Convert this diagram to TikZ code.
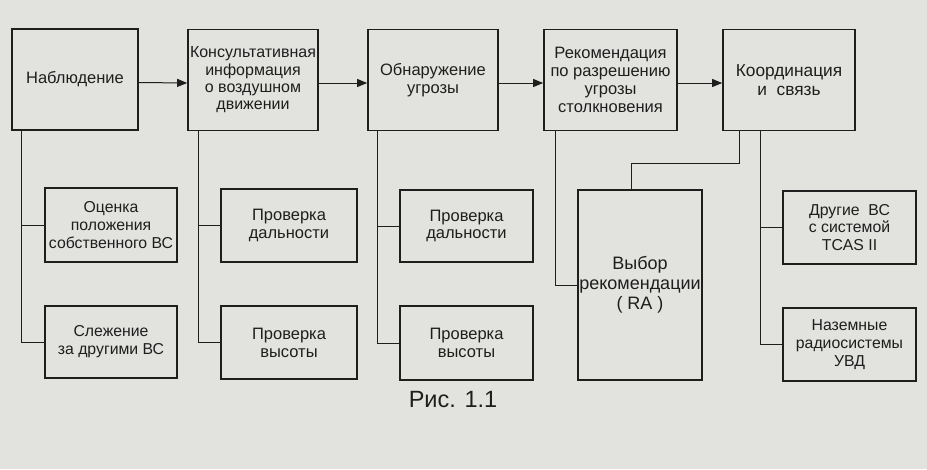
\documentclass[tikz,border=0pt]{standalone}
\usepackage{fontspec}
\setmainfont{Liberation Sans}
\usetikzlibrary{arrows.meta,calc}
\definecolor{paper}{RGB}{226,226,223}
\definecolor{ink}{RGB}{30,30,30}
\tikzset{
  box/.style={draw=ink, line width=1.7pt, align=center, text=ink,
    font=\fontsize{15.8}{17.8}\selectfont, inner sep=0pt},
  big/.style={font=\fontsize{16.5}{17.8}\selectfont},
  link/.style={draw=ink, line width=0.9pt},
  arr/.style={draw=ink, line width=1pt, -{Triangle[length=10pt,width=8pt]}},
}
\begin{document}
\begin{tikzpicture}[x=1pt,y=-1pt]
\fill[paper] (0,0) rectangle (927,469);
\useasboundingbox (0,0) rectangle (927,469);
% top row
\node[box, big, minimum width=126pt, minimum height=101pt] (A) at (75,79.5) {Наблюдение};
\node[box, font=\fontsize{16}{17.3}\selectfont, minimum width=130pt, minimum height=101pt] (B) at (253,80) {Консультативная\\информация\\о воздушном\\движении};
\node[box, big, minimum width=130pt, minimum height=101pt] (C) at (433,80) {Обнаружение\\угрозы};
\node[box, big, minimum width=133pt, minimum height=101pt] (D) at (610.5,80) {Рекомендация\\по разрешению\\угрозы\\столкновения};
\node[box, font=\fontsize{17.3}{19}\selectfont, minimum width=132pt, minimum height=101pt] (E) at (789,80) {Координация\\и~~связь};
% lower boxes
\node[box, minimum width=132pt, minimum height=74pt] (L1) at (111,225) {Оценка\\положения\\собственного ВС};
\node[box, minimum width=132pt, minimum height=72pt] (L2) at (111,342) {Слежение\\за другими ВС};
\node[box, big, minimum width=136pt, minimum height=73pt] (M1) at (289,225.5) {Проверка\\дальности};
\node[box, big, minimum width=136pt, minimum height=73pt] (M2) at (289,342.5) {Проверка\\высоты};
\node[box, big, minimum width=133pt, minimum height=72pt] (N1) at (466.5,226) {Проверка\\дальности};
\node[box, big, minimum width=133pt, minimum height=74pt] (N2) at (466.5,343) {Проверка\\высоты};
\node[box, font=\fontsize{18}{20}\selectfont, minimum width=124pt, minimum height=190pt] (V) at (640,285) {Выбор\\рекомендации\\( RA )};
\node[box, minimum width=133pt, minimum height=73pt] (R1) at (849.5,227.5) {Другие~~ВС\\с системой\\TCAS II};
\node[box, minimum width=133pt, minimum height=73pt] (R2) at (849.5,344.5) {Наземные\\радиосистемы\\УВД};
% caption
\node[text=ink, font=\fontsize{23.5}{26}\selectfont] (cap) at (453,400) {Рис. 1.1};
% arrows
\draw[arr] ([yshift=-3pt]A.east) -- ([yshift=-3pt]B.west);
\draw[arr] ([yshift=-3pt]B.east) -- ([yshift=-3pt]C.west);
\draw[arr] ([yshift=-3pt]C.east) -- ([yshift=-3pt]D.west);
\draw[arr] ([yshift=-3pt]D.east) -- ([yshift=-3pt]E.west);
% trunks
\coordinate (tA) at ([xshift=10pt]A.south west);
\coordinate (tB) at ([xshift=11pt]B.south west);
\coordinate (tC) at ([xshift=10pt]C.south west);
\coordinate (tD) at ([xshift=12pt]D.south west);
\coordinate (tE1) at ([xshift=17pt]E.south west);
\coordinate (tE2) at ([xshift=38pt]E.south west);
\draw[link] (tA) |- (L2.west);
\draw[link] (tA |- L1.west) -- (L1.west);
\draw[link] (tB) |- (M2.west);
\draw[link] (tB |- M1.west) -- (M1.west);
\draw[link] (tC) |- (N2.west);
\draw[link] (tC |- N1.west) -- (N1.west);
\draw[link] (tD) |- (V.west);
\draw[link] (tE1) -- ++(0,32) -| ([xshift=-9pt]V.north);
\draw[link] (tE2) |- (R2.west);
\draw[link] (tE2 |- R1.west) -- (R1.west);
\end{tikzpicture}
\end{document}
